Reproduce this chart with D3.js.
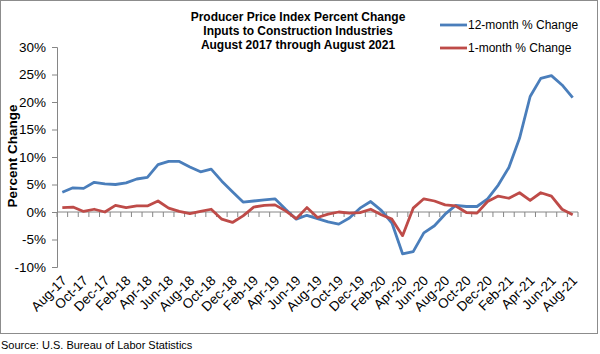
<!DOCTYPE html>
<html>
<head>
<meta charset="utf-8">
<script src="https://cdn.jsdelivr.net/npm/d3@7"></script>
<style>
  body { margin: 0; background: #fff; }
  svg { font-family: "Liberation Sans", Arial, sans-serif; }
</style>
</head>
<body>
<svg width="600" height="354"></svg>
<script>
const months = ['Aug-17','Sep-17','Oct-17','Nov-17','Dec-17','Jan-18','Feb-18','Mar-18','Apr-18','May-18','Jun-18','Jul-18',
    'Aug-18','Sep-18','Oct-18','Nov-18','Dec-18','Jan-19','Feb-19','Mar-19','Apr-19','May-19','Jun-19','Jul-19',
    'Aug-19','Sep-19','Oct-19','Nov-19','Dec-19','Jan-20','Feb-20','Mar-20','Apr-20','May-20','Jun-20','Jul-20',
    'Aug-20','Sep-20','Oct-20','Nov-20','Dec-20','Jan-21','Feb-21','Mar-21','Apr-21','May-21','Jun-21','Jul-21','Aug-21']

const twelveMonth = [3.6, 4.4, 4.3, 5.4, 5.1, 5.0, 5.3, 6.0, 6.3, 8.6, 9.2, 9.2,
    8.2, 7.3, 7.8, 5.6, 3.7, 1.8, 2.0, 2.2, 2.4, 0.5, -1.3, -0.6,
    -1.2, -1.8, -2.2, -1.1, 0.7, 1.9, 0.3, -2.0, -7.6, -7.2, -3.8, -2.5,
    -0.4, 1.2, 1.0, 1.0, 2.4, 4.9, 8.1, 13.4, 21.0, 24.3, 24.8, 23.1, 20.8]

const oneMonth = [0.8, 0.9, 0.1, 0.5, 0.0, 1.2, 0.8, 1.1, 1.1, 2.0, 0.7, 0.1,
    -0.3, 0.1, 0.5, -1.3, -1.9, -0.7, 0.9, 1.2, 1.3, 0.2, -1.2, 0.8,
    -1.0, -0.4, 0.0, -0.2, -0.1, 0.5, -0.5, -1.3, -4.3, 0.7, 2.4, 2.0,
    1.3, 1.1, -0.1, -0.2, 1.9, 2.9, 2.5, 3.5, 2.1, 3.5, 2.9, 0.5, -0.5]

const yTicks = [-10, -5, 0, 5, 10, 15, 20, 25, 30]

const titleLines = ['Producer Price Index Percent Change', 'Inputs to Construction Industries', 'August 2017 through August 2021']

const series = [
    {name: '12-month % Change', values: twelveMonth, color: '#4a7ebb'},
    {name: '1-month % Change', values: oneMonth, color: '#be4b48'}
]

const svg = d3.select('svg')

// outer chart border
svg.append('rect')
    .attr('x', 0.5).attr('y', 0.5)
    .attr('width', 597).attr('height', 333)
    .attr('fill', '#fff')
    .attr('stroke', '#8c8c8c')

const plot = {left: 57, right: 578, top: 47, bottom: 267}

const x = d3.scaleBand()
    .domain(months)
    .range([plot.left, plot.right])

const y = d3.scaleLinear()
    .domain([-10, 30])
    .range([plot.bottom, plot.top])

const cx = d => x(d) + x.bandwidth() / 2

// y axis
const yAxis = svg.append('g')
    .attr('transform', `translate(${plot.left},0)`)
    .call(d3.axisLeft(y).tickValues(yTicks).tickSize(5).tickPadding(6).tickFormat(d => d + '%'))
yAxis.select('.domain').attr('stroke', '#868686')
yAxis.selectAll('.tick line').attr('stroke', '#868686')
yAxis.selectAll('.tick text')
    .attr('font-size', 13.5)
    .attr('fill', '#000')
    .attr('font-family', '"Liberation Sans", Arial, sans-serif')

// x axis along 0%
const zeroY = y(0)
const xAxis = svg.append('g')
xAxis.append('line')
    .attr('x1', plot.left).attr('x2', plot.right)
    .attr('y1', zeroY).attr('y2', zeroY)
    .attr('stroke', '#868686')
xAxis.selectAll('.tk')
    .data(months.concat(['end']))
    .join('line')
    .attr('class', 'tk')
    .attr('x1', (d, i) => i < months.length ? x(d) : plot.right)
    .attr('x2', (d, i) => i < months.length ? x(d) : plot.right)
    .attr('y1', zeroY).attr('y2', zeroY + 5)
    .attr('stroke', '#868686')

// category labels at the bottom, every other month
svg.append('g')
    .selectAll('text')
    .data(months.filter((d, i) => i % 2 === 0))
    .join('text')
    .attr('transform', d => `translate(${cx(d) + 2},${plot.bottom + 11}) rotate(-45)`)
    .attr('text-anchor', 'end')
    .attr('dy', '0.35em')
    .attr('font-size', 13.5)
    .text(d => d)

// lines
const line = d3.line()
    .x((d, i) => cx(months[i]))
    .y(d => y(d))

svg.append('g')
    .selectAll('path')
    .data(series)
    .join('path')
    .attr('fill', 'none')
    .attr('stroke', d => d.color)
    .attr('stroke-width', 2.8)
    .attr('stroke-linejoin', 'round')
    .attr('d', d => line(d.values))

// title
svg.append('g')
    .selectAll('text')
    .data(titleLines)
    .join('text')
    .attr('x', 298)
    .attr('y', (d, i) => 21 + i * 14)
    .attr('text-anchor', 'middle')
    .attr('font-size', 12)
    .attr('font-weight', 700)
    .text(d => d)

// y axis title
svg.append('text')
    .attr('transform', 'translate(17,156) rotate(-90)')
    .attr('text-anchor', 'middle')
    .attr('font-size', 13.5)
    .attr('font-weight', 700)
    .text('Percent Change')

// legend
const legend = svg.append('g')
    .selectAll('g')
    .data(series)
    .join('g')
    .attr('transform', (d, i) => `translate(440,${25 + i * 23})`)
legend.append('line')
    .attr('x1', 0).attr('x2', 27)
    .attr('stroke', d => d.color)
    .attr('stroke-width', 2.8)
legend.append('text')
    .attr('x', 28)
    .attr('dy', '0.35em')
    .attr('font-size', 12)
    .text(d => d.name)

// source
svg.append('text')
    .attr('x', 1)
    .attr('y', 349)
    .attr('font-size', 11)
    .text('Source: U.S. Bureau of Labor Statistics')
</script>
</body>
</html>
